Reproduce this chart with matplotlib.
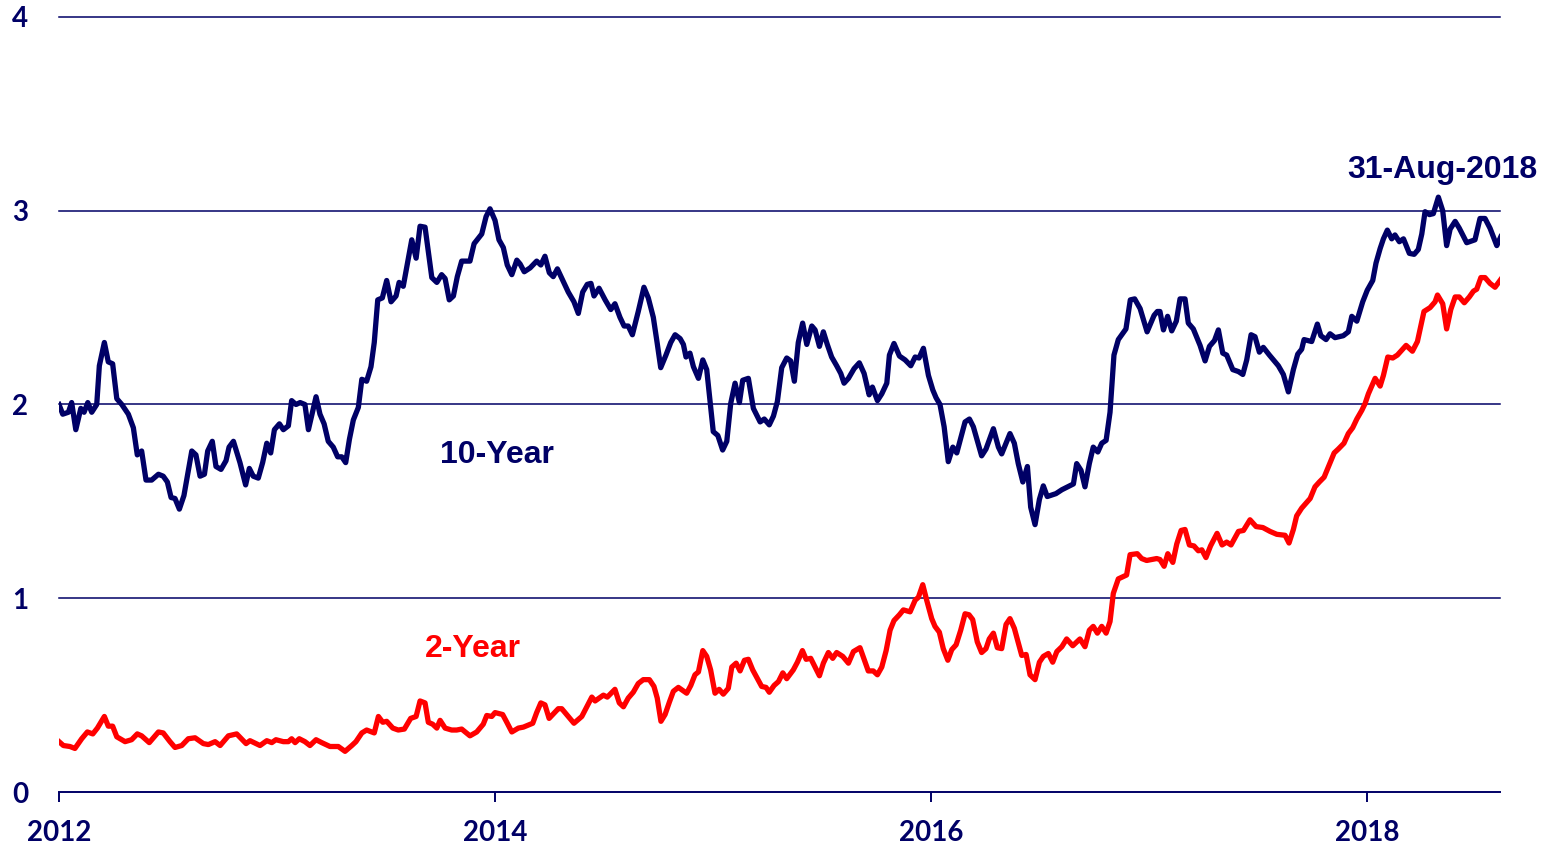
import matplotlib
matplotlib.use("Agg")
import matplotlib.pyplot as plt
import numpy as np

# years since 1 Jan 2012 and yield (%)
t10 = [0.000, 0.017, 0.043, 0.058, 0.077, 0.100, 0.115, 0.132, 0.150, 0.173,
       0.185, 0.208, 0.226, 0.246, 0.265, 0.288, 0.318, 0.341, 0.359, 0.379,
       0.399, 0.425, 0.456, 0.478, 0.497, 0.514, 0.532, 0.552, 0.573, 0.609,
       0.628, 0.647, 0.667, 0.682, 0.703, 0.720, 0.743, 0.766, 0.780, 0.800,
       0.830, 0.856, 0.873, 0.891, 0.914, 0.934, 0.953, 0.971, 0.988, 1.011,
       1.029, 1.052, 1.067, 1.087, 1.106, 1.128, 1.144, 1.179, 1.197, 1.216,
       1.235, 1.258, 1.278, 1.297, 1.315, 1.332, 1.350, 1.373, 1.389, 1.411,
       1.431, 1.446, 1.462, 1.483, 1.503, 1.523, 1.546, 1.560, 1.579, 1.618,
       1.638, 1.656, 1.679, 1.710, 1.733, 1.755, 1.771, 1.790, 1.809, 1.827,
       1.847, 1.885, 1.904, 1.939, 1.959, 1.977, 2.000, 2.018, 2.038, 2.056,
       2.077, 2.100, 2.115, 2.134, 2.161, 2.191, 2.210, 2.229, 2.249, 2.267,
       2.286, 2.311, 2.336, 2.362, 2.382, 2.402, 2.423, 2.440, 2.454, 2.477,
       2.505, 2.531, 2.550, 2.573, 2.592, 2.611, 2.630, 2.657, 2.683, 2.703,
       2.726, 2.744, 2.760, 2.784, 2.806, 2.826, 2.849, 2.864, 2.876, 2.894,
       2.910, 2.933, 2.953, 2.971, 2.986, 3.001, 3.022, 3.044, 3.063, 3.081,
       3.101, 3.121, 3.136, 3.162, 3.185, 3.216, 3.235, 3.258, 3.277, 3.295,
       3.315, 3.338, 3.356, 3.373, 3.391, 3.411, 3.430, 3.453, 3.468, 3.488,
       3.506, 3.524, 3.544, 3.567, 3.586, 3.601, 3.621, 3.647, 3.671, 3.693,
       3.716, 3.731, 3.754, 3.774, 3.797, 3.809, 3.830, 3.855, 3.881, 3.907,
       3.927, 3.945, 3.965, 3.988, 4.008, 4.023, 4.041, 4.060, 4.079, 4.100,
       4.118, 4.136, 4.156, 4.176, 4.194, 4.232, 4.252, 4.286, 4.309, 4.324,
       4.362, 4.382, 4.400, 4.421, 4.442, 4.457, 4.477, 4.497, 4.515, 4.533,
       4.573, 4.600, 4.653, 4.668, 4.688, 4.706, 4.726, 4.744, 4.765, 4.783,
       4.803, 4.821, 4.839, 4.859, 4.894, 4.914, 4.934, 4.959, 4.991, 5.023,
       5.038, 5.050, 5.066, 5.085, 5.104, 5.125, 5.142, 5.165, 5.180, 5.203,
       5.234, 5.257, 5.277, 5.300, 5.318, 5.338, 5.356, 5.384, 5.410, 5.430,
       5.448, 5.468, 5.486, 5.506, 5.524, 5.552, 5.593, 5.616, 5.639, 5.662,
       5.682, 5.700, 5.711, 5.746, 5.772, 5.788, 5.812, 5.830, 5.853, 5.891,
       5.914, 5.930, 5.953, 5.980, 6.001, 6.026, 6.041, 6.060, 6.075, 6.093,
       6.113, 6.128, 6.148, 6.167, 6.194, 6.216, 6.235, 6.251, 6.266, 6.286,
       6.304, 6.327, 6.347, 6.365, 6.381, 6.404, 6.423, 6.457, 6.495, 6.518,
       6.541, 6.564, 6.595, 6.613]
y10 = [2.00, 1.95, 1.96, 2.01, 1.87, 1.98, 1.96, 2.01, 1.96, 2.00,
       2.20, 2.32, 2.22, 2.21, 2.03, 2.00, 1.95, 1.88, 1.74, 1.76,
       1.61, 1.61, 1.64, 1.63, 1.60, 1.52, 1.515, 1.46, 1.53, 1.76,
       1.74, 1.63, 1.64, 1.76, 1.81, 1.68, 1.665, 1.71, 1.78, 1.81,
       1.70, 1.585, 1.67, 1.63, 1.62, 1.70, 1.80, 1.75, 1.87, 1.90,
       1.87, 1.89, 2.02, 2.00, 2.01, 2.00, 1.87, 2.04, 1.95, 1.90,
       1.81, 1.78, 1.73, 1.73, 1.70, 1.82, 1.92, 1.985, 2.13, 2.12,
       2.195, 2.32, 2.54, 2.55, 2.64, 2.53, 2.56, 2.63, 2.61, 2.85,
       2.755, 2.92, 2.915, 2.655, 2.63, 2.67, 2.65, 2.54, 2.56, 2.66,
       2.74, 2.74, 2.83, 2.88, 2.97, 3.01, 2.95, 2.85, 2.81, 2.72,
       2.67, 2.745, 2.725, 2.685, 2.705, 2.74, 2.72, 2.765, 2.68, 2.66,
       2.70, 2.64, 2.58, 2.53, 2.47, 2.58, 2.62, 2.625, 2.56, 2.60,
       2.54, 2.49, 2.52, 2.45, 2.405, 2.405, 2.36, 2.48, 2.605, 2.55,
       2.45, 2.315, 2.19, 2.255, 2.32, 2.36, 2.34, 2.31, 2.245, 2.265,
       2.195, 2.135, 2.23, 2.18, 2.02, 1.86, 1.84, 1.765, 1.81, 2.005,
       2.11, 2.01, 2.125, 2.135, 1.98, 1.91, 1.925, 1.895, 1.94, 2.015,
       2.19, 2.24, 2.225, 2.12, 2.32, 2.42, 2.31, 2.405, 2.385, 2.30,
       2.375, 2.31, 2.245, 2.20, 2.16, 2.11, 2.135, 2.185, 2.215, 2.16,
       2.05, 2.09, 2.02, 2.055, 2.11, 2.255, 2.315, 2.25, 2.23, 2.20,
       2.245, 2.24, 2.29, 2.15, 2.075, 2.035, 2.00, 1.885, 1.705, 1.78,
       1.75, 1.825, 1.91, 1.925, 1.885, 1.735, 1.77, 1.875, 1.78, 1.745,
       1.85, 1.80, 1.695, 1.60, 1.68, 1.47, 1.38, 1.51, 1.58, 1.525,
       1.54, 1.56, 1.59, 1.695, 1.66, 1.575, 1.695, 1.78, 1.755, 1.80,
       1.815, 1.96, 2.255, 2.335, 2.39, 2.54, 2.545, 2.495, 2.375, 2.46,
       2.48, 2.48, 2.385, 2.455, 2.38, 2.43, 2.545, 2.545, 2.42, 2.39,
       2.305, 2.225, 2.30, 2.33, 2.385, 2.265, 2.255, 2.18, 2.17, 2.155,
       2.23, 2.36, 2.35, 2.27, 2.295, 2.255, 2.20, 2.155, 2.065, 2.18,
       2.26, 2.285, 2.335, 2.325, 2.415, 2.355, 2.335, 2.365, 2.345, 2.355,
       2.375, 2.455, 2.43, 2.53, 2.59, 2.64, 2.73, 2.805, 2.855, 2.90,
       2.855, 2.875, 2.84, 2.855, 2.78, 2.775, 2.80, 2.88, 2.995, 2.98,
       2.985, 3.07, 3.00, 2.82, 2.905, 2.945, 2.91, 2.835, 2.85, 2.96,
       2.96, 2.91, 2.82, 2.865]

t2 = [0.000, 0.020, 0.050, 0.073, 0.104, 0.130, 0.155, 0.176, 0.208, 0.226,
      0.246, 0.265, 0.303, 0.333, 0.359, 0.379, 0.414, 0.456, 0.478, 0.509,
      0.532, 0.563, 0.593, 0.624, 0.662, 0.685, 0.716, 0.739, 0.777, 0.815,
      0.858, 0.876, 0.922, 0.953, 0.976, 0.995, 1.029, 1.052, 1.067, 1.083,
      1.102, 1.128, 1.151, 1.179, 1.205, 1.243, 1.281, 1.312, 1.343, 1.362,
      1.389, 1.411, 1.446, 1.465, 1.485, 1.503, 1.531, 1.556, 1.584, 1.613,
      1.638, 1.656, 1.679, 1.694, 1.714, 1.733, 1.748, 1.771, 1.801, 1.824,
      1.847, 1.885, 1.916, 1.946, 1.962, 1.985, 2.000, 2.035, 2.054, 2.077,
      2.107, 2.130, 2.173, 2.191, 2.210, 2.229, 2.248, 2.290, 2.306, 2.336,
      2.362, 2.398, 2.421, 2.444, 2.459, 2.497, 2.515, 2.550, 2.570, 2.589,
      2.611, 2.634, 2.657, 2.680, 2.708, 2.729, 2.744, 2.761, 2.780, 2.800,
      2.818, 2.841, 2.879, 2.898, 2.917, 2.933, 2.953, 2.971, 2.989, 3.009,
      3.028, 3.047, 3.070, 3.086, 3.106, 3.124, 3.144, 3.162, 3.182, 3.223,
      3.243, 3.258, 3.280, 3.300, 3.320, 3.338, 3.368, 3.387, 3.410, 3.427,
      3.448, 3.468, 3.488, 3.506, 3.529, 3.549, 3.567, 3.595, 3.621, 3.644,
      3.674, 3.712, 3.735, 3.754, 3.774, 3.794, 3.812, 3.830, 3.855, 3.873,
      3.904, 3.927, 3.942, 3.962, 3.980, 4.003, 4.018, 4.038, 4.056, 4.077,
      4.095, 4.115, 4.136, 4.156, 4.174, 4.191, 4.212, 4.232, 4.252, 4.267,
      4.286, 4.304, 4.324, 4.344, 4.362, 4.382, 4.400, 4.416, 4.436, 4.454,
      4.477, 4.497, 4.515, 4.538, 4.558, 4.577, 4.600, 4.622, 4.650, 4.683,
      4.706, 4.726, 4.744, 4.763, 4.783, 4.803, 4.821, 4.836, 4.859, 4.897,
      4.913, 4.946, 4.966, 4.989, 5.035, 5.050, 5.069, 5.086, 5.109, 5.127,
      5.147, 5.165, 5.185, 5.206, 5.226, 5.242, 5.261, 5.282, 5.312, 5.335,
      5.356, 5.376, 5.410, 5.433, 5.463, 5.491, 5.522, 5.555, 5.586, 5.624,
      5.642, 5.662, 5.677, 5.700, 5.723, 5.739, 5.761, 5.781, 5.803, 5.823,
      5.849, 5.868, 5.894, 5.914, 5.934, 5.953, 5.976, 5.991, 6.006, 6.037,
      6.060, 6.075, 6.095, 6.118, 6.139, 6.179, 6.208, 6.231, 6.261, 6.289,
      6.312, 6.323, 6.347, 6.365, 6.384, 6.404, 6.423, 6.446, 6.469, 6.488,
      6.503, 6.522, 6.541, 6.564, 6.587, 6.613]
y2 = [0.26, 0.24, 0.235, 0.225, 0.275, 0.31, 0.30, 0.33, 0.39, 0.34,
      0.34, 0.285, 0.26, 0.27, 0.30, 0.29, 0.255, 0.31, 0.305, 0.26,
      0.23, 0.24, 0.275, 0.28, 0.25, 0.245, 0.26, 0.24, 0.29, 0.30,
      0.25, 0.265, 0.24, 0.265, 0.255, 0.27, 0.26, 0.26, 0.275, 0.255,
      0.275, 0.26, 0.24, 0.27, 0.255, 0.235, 0.235, 0.21, 0.24, 0.26,
      0.305, 0.32, 0.305, 0.39, 0.36, 0.365, 0.33, 0.32, 0.325, 0.38,
      0.39, 0.47, 0.46, 0.36, 0.35, 0.33, 0.37, 0.33, 0.32, 0.32,
      0.325, 0.29, 0.31, 0.35, 0.395, 0.39, 0.41, 0.40, 0.36, 0.31,
      0.33, 0.335, 0.355, 0.41, 0.46, 0.45, 0.38, 0.43, 0.43, 0.39,
      0.355, 0.39, 0.44, 0.49, 0.47, 0.50, 0.49, 0.53, 0.46, 0.44,
      0.485, 0.515, 0.56, 0.58, 0.58, 0.545, 0.485, 0.365, 0.40, 0.465,
      0.52, 0.54, 0.51, 0.55, 0.605, 0.62, 0.73, 0.70, 0.63, 0.51,
      0.53, 0.505, 0.535, 0.645, 0.665, 0.625, 0.68, 0.685, 0.63, 0.545,
      0.54, 0.515, 0.55, 0.57, 0.615, 0.585, 0.63, 0.67, 0.73, 0.685,
      0.69, 0.645, 0.60, 0.665, 0.72, 0.69, 0.72, 0.70, 0.665, 0.725,
      0.745, 0.625, 0.625, 0.605, 0.645, 0.73, 0.835, 0.885, 0.915, 0.94,
      0.93, 0.99, 1.005, 1.07, 0.99, 0.895, 0.855, 0.825, 0.74, 0.68,
      0.735, 0.76, 0.835, 0.92, 0.915, 0.89, 0.775, 0.72, 0.74, 0.79,
      0.82, 0.745, 0.74, 0.865, 0.895, 0.845, 0.77, 0.705, 0.71, 0.605,
      0.58, 0.67, 0.70, 0.715, 0.67, 0.725, 0.75, 0.79, 0.755, 0.79,
      0.75, 0.835, 0.855, 0.82, 0.855, 0.82, 0.88, 1.025, 1.10, 1.12,
      1.225, 1.23, 1.205, 1.195, 1.205, 1.20, 1.165, 1.23, 1.185, 1.28,
      1.35, 1.355, 1.275, 1.27, 1.245, 1.25, 1.21, 1.27, 1.335, 1.275,
      1.29, 1.275, 1.345, 1.35, 1.405, 1.37, 1.365, 1.345, 1.33, 1.325,
      1.285, 1.355, 1.425, 1.465, 1.495, 1.515, 1.575, 1.60, 1.625, 1.68,
      1.75, 1.77, 1.80, 1.85, 1.88, 1.925, 1.97, 2.005, 2.055, 2.135,
      2.095, 2.15, 2.245, 2.24, 2.255, 2.305, 2.275, 2.325, 2.48, 2.50,
      2.53, 2.565, 2.52, 2.39, 2.49, 2.555, 2.555, 2.525, 2.555, 2.585,
      2.595, 2.655, 2.655, 2.625, 2.605, 2.645]

year_ticks = [2012, 2014, 2016, 2018]
y_ticks = [0, 1, 2, 3, 4]

navy = "#000066"
red = "#ff0000"

fig = plt.figure(figsize=(15.49, 8.48), dpi=100)
ax = fig.add_axes([0.0381, 0.066, 0.9303, 0.914])

x10 = 2012 + np.array(t10)
x2 = 2012 + np.array(t2)
ax.plot(x10, y10, color=navy, lw=3.8, solid_joinstyle="round", zorder=3)
ax.plot(x2, y2, color=red, lw=3.8, solid_joinstyle="round", zorder=3)

ax.set_xlim(2012, 2018.61)
ax.set_ylim(0, 4)
ax.set_xticks(year_ticks)
ax.set_xticklabels([str(y) for y in year_ticks])
ax.set_yticks(y_ticks)
for v in y_ticks[1:]:
    ax.axhline(v, color=navy, lw=1.1, zorder=1, clip_on=False)

for s in ["top", "right", "left"]:
    ax.spines[s].set_visible(False)
ax.spines["bottom"].set_color(navy)
ax.spines["bottom"].set_linewidth(1.4)

ax.tick_params(axis="x", direction="out", length=7, width=1.4, color=navy, pad=13)
ax.tick_params(axis="y", length=0, pad=28)
for lab in ax.get_xticklabels() + ax.get_yticklabels():
    lab.set_fontfamily("Lato")
    lab.set_fontweight("bold")
    lab.set_fontsize(20)
    lab.set_color(navy)
for lab in ax.get_yticklabels():
    lab.set_horizontalalignment("center")

ax.text(2014.01, 1.74, "10-Year", color=navy, fontsize=23, fontweight="bold",
        family="Liberation Sans", ha="center", va="center")
ax.text(2013.9, 0.74, "2-Year", color=red, fontsize=23, fontweight="bold",
        family="Liberation Sans", ha="center", va="center")
ax.text(2018.345, 3.21, "31-Aug-2018", color=navy, fontsize=23, fontweight="bold",
        family="Liberation Sans", ha="center", va="center", clip_on=False)

fig.savefig("out.png", dpi=100)
